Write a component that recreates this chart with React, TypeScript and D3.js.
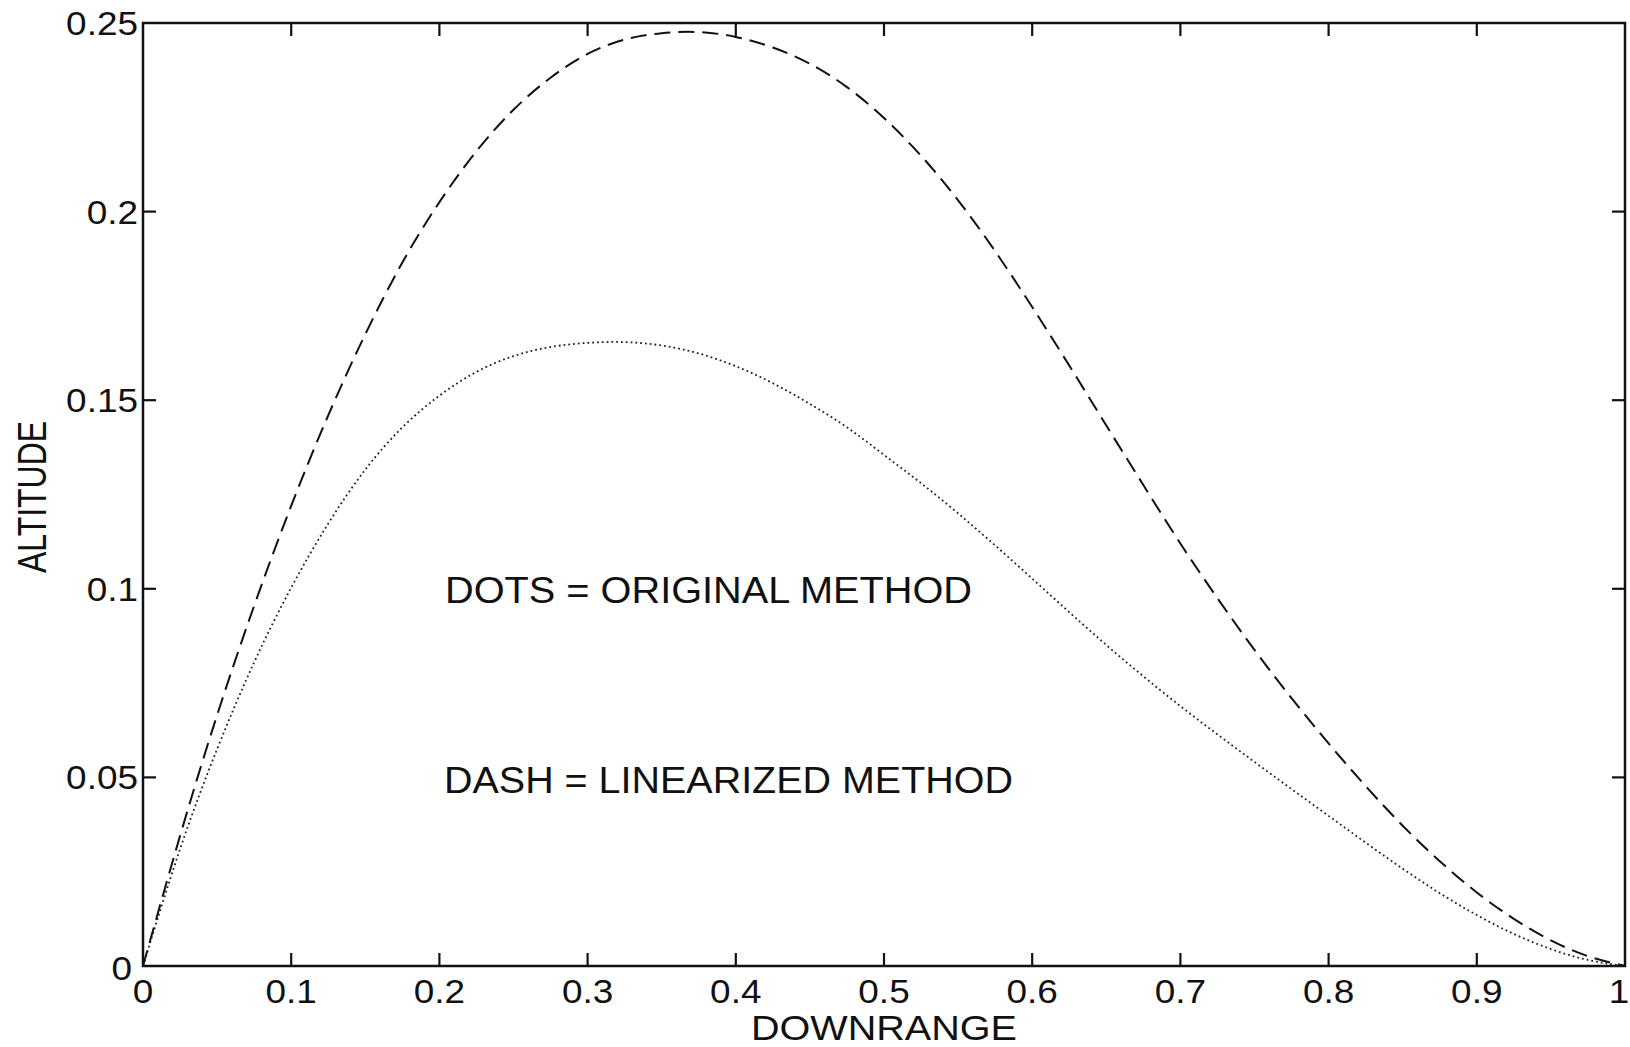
import React from "react";
import * as d3 from "d3";

// Downrange positions (shared) and altitudes
const downrange = [0, 0.025, 0.05, 0.075, 0.1, 0.125, 0.15, 0.175, 0.2, 0.225, 0.25, 0.275, 0.3, 0.325, 0.35, 0.375, 0.4, 0.425, 0.45, 0.475, 0.5, 0.525, 0.55, 0.575, 0.6, 0.625, 0.65, 0.675, 0.7, 0.725, 0.75, 0.775, 0.8, 0.825, 0.85, 0.875, 0.9, 0.925, 0.95, 0.975, 1.0];

// DASH = linearized method
const dashAlt = [0, 0.0345, 0.0665, 0.0955, 0.122, 0.146, 0.1675, 0.1865, 0.2025, 0.216, 0.227, 0.2355, 0.2418, 0.2456, 0.2473, 0.2476, 0.2463, 0.2435, 0.2392, 0.233, 0.2248, 0.2148, 0.203, 0.1895, 0.1747, 0.1592, 0.1433, 0.1275, 0.112, 0.0975, 0.0838, 0.071, 0.059, 0.0477, 0.0372, 0.0278, 0.0195, 0.0125, 0.0068, 0.0026, 0];

// DOTS = original method
const dotAlt = [0, 0.031, 0.0575, 0.0805, 0.1003, 0.1173, 0.1316, 0.1428, 0.1512, 0.1575, 0.1617, 0.1641, 0.1652, 0.1654, 0.1645, 0.1624, 0.159, 0.1545, 0.149, 0.1428, 0.1355, 0.128, 0.12, 0.1115, 0.1027, 0.0938, 0.0851, 0.0768, 0.0689, 0.0614, 0.0541, 0.0469, 0.0398, 0.0327, 0.0258, 0.0193, 0.0135, 0.0085, 0.0045, 0.0016, 0];

const xTicks = [0, 0.1, 0.2, 0.3, 0.4, 0.5, 0.6, 0.7, 0.8, 0.9, 1];
const xTickLabels = ["0", "0.1", "0.2", "0.3", "0.4", "0.5", "0.6", "0.7", "0.8", "0.9", "1"];
const yTicks = [0, 0.05, 0.1, 0.15, 0.2, 0.25];
const yTickLabels = ["0", "0.05", "0.1", "0.15", "0.2", "0.25"];

const xTitle = "DOWNRANGE";
const yTitle = "ALTITUDE";
const note1 = "DOTS = ORIGINAL METHOD";
const note2 = "DASH = LINEARIZED METHOD";

const W = 1630;
const H = 1047;
const FONT = "'Liberation Sans', Arial, Helvetica, sans-serif";

export default function App() {
  const x = d3.scaleLinear().domain([0, 1]).range([143, 1625]);
  const y = d3.scaleLinear().domain([0, 0.25]).range([966, 23]);

  const line = d3
    .line<[number, number]>()
    .x((d) => x(d[0]))
    .y((d) => y(Math.max(0, d[1])))
    .curve(d3.curveNatural);

  const dashPts = downrange.map((v, i) => [v, dashAlt[i]] as [number, number]);
  const dotPts = downrange.map((v, i) => [v, dotAlt[i]] as [number, number]);

  const tickLen = 13;
  const x0 = x(0), x1 = x(1), y0 = y(0), y1 = y(0.25);

  return (
    <svg
      width={W}
      height={H}
      style={{ position: "absolute", left: 0, top: 0, background: "#fff" }}
      xmlns="http://www.w3.org/2000/svg"
    >
      <rect x={0} y={0} width={W} height={H} fill="#fff" />
      {/* frame */}
      <rect x={x0} y={y1} width={x1 - x0} height={y0 - y1} fill="none" stroke="#111" strokeWidth={2.5} />
      {/* ticks */}
      {xTicks.slice(1, -1).map((t) => (
        <g key={"xt" + t}>
          <line x1={x(t)} x2={x(t)} y1={y0} y2={y0 - tickLen} stroke="#111" strokeWidth={2.2} />
          <line x1={x(t)} x2={x(t)} y1={y1} y2={y1 + tickLen} stroke="#111" strokeWidth={2.2} />
        </g>
      ))}
      {yTicks.slice(1, -1).map((t) => (
        <g key={"yt" + t}>
          <line x1={x0} x2={x0 + tickLen} y1={y(t)} y2={y(t)} stroke="#111" strokeWidth={2.2} />
          <line x1={x1} x2={x1 - tickLen} y1={y(t)} y2={y(t)} stroke="#111" strokeWidth={2.2} />
        </g>
      ))}
      {/* tick labels */}
      {xTicks.map((t, i) => (
        <text
          key={"xl" + t}
          transform={`translate(${t === 1 ? x(t) - 6 : x(t)},${1003}) scale(1.12,1)`}
          textAnchor="middle"
          fontFamily={FONT}
          fontSize={33}
          fill="#111"
        >
          {xTickLabels[i]}
        </text>
      ))}
      {yTicks.map((t, i) => (
        <text
          key={"yl" + t}
          transform={`translate(${t === 0 ? 132 : 138},${y(t) + (t === 0 ? 14 : 12)}) scale(1.12,1)`}
          textAnchor="end"
          fontFamily={FONT}
          fontSize={33}
          fill="#111"
        >
          {yTickLabels[i]}
        </text>
      ))}
      {/* axis titles */}
      <text
        x={884}
        y={1040}
        textAnchor="middle"
        fontFamily={FONT}
        fontSize={35}
        textLength={266}
        lengthAdjust="spacingAndGlyphs"
        fill="#111"
      >
        {xTitle}
      </text>
      <text
        transform={`translate(46,497) rotate(-90)`}
        textAnchor="middle"
        fontFamily={FONT}
        fontSize={40}
        textLength={152}
        lengthAdjust="spacingAndGlyphs"
        fill="#111"
      >
        {yTitle}
      </text>
      {/* annotations */}
      <text x={445} y={603} fontFamily={FONT} fontSize={36} textLength={527} lengthAdjust="spacingAndGlyphs" fill="#111">
        {note1}
      </text>
      <text x={444} y={793} fontFamily={FONT} fontSize={36} textLength={569} lengthAdjust="spacingAndGlyphs" fill="#111">
        {note2}
      </text>
      {/* curves */}
      <path d={line(dotPts) || ""} fill="none" stroke="#222" strokeWidth={1.8} strokeDasharray="1.8,3" />
      <path d={line(dashPts) || ""} fill="none" stroke="#111" strokeWidth={2} strokeDasharray="16,8" />
    </svg>
  );
}
